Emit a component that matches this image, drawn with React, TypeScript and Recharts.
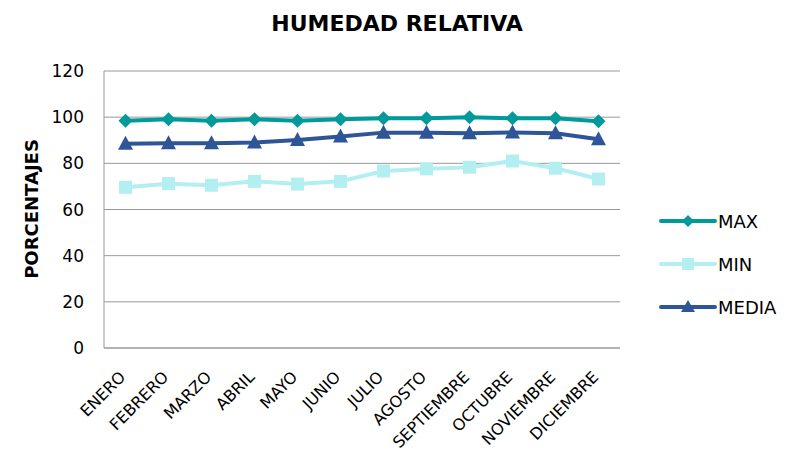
import React from 'react';
import { LineChart, Line, XAxis, YAxis, CartesianGrid } from 'recharts';

const months = ['ENERO','FEBRERO','MARZO','ABRIL','MAYO','JUNIO','JULIO','AGOSTO','SEPTIEMBRE','OCTUBRE','NOVIEMBRE','DICIEMBRE'];
const maxVals = [98.5, 99.1, 98.5, 99.1, 98.5, 99.1, 99.5, 99.5, 100, 99.5, 99.5, 98.2];
const minVals = [69.6, 71.2, 70.5, 72.2, 71.0, 72.2, 76.7, 77.6, 78.3, 81.0, 77.9, 73.2];
const mediaVals = [88.5, 88.7, 88.7, 89.0, 90.1, 91.6, 93.3, 93.3, 93.0, 93.4, 93.0, 90.4];
const yTicks = [0, 20, 40, 60, 80, 100, 120];

const data = months.map((m, i) => ({ name: m, MAX: maxVals[i], MIN: minVals[i], MEDIA: mediaVals[i] }));

const FONT = '"DejaVu Sans", sans-serif';
const C_MAX = '#009a9a';
const C_MIN = '#b3eef1';
const C_MEDIA = '#2e5597';

const Diamond = (props: any) => {
  const { cx, cy, color } = props;
  if (cx == null || cy == null) return null;
  const r = 7;
  return <path d={`M${cx},${cy - r}L${cx + r},${cy}L${cx},${cy + r}L${cx - r},${cy}Z`} fill={color} />;
};
const Square = (props: any) => {
  const { cx, cy, color } = props;
  if (cx == null || cy == null) return null;
  const r = 6.5;
  return <rect x={cx - r} y={cy - r} width={2 * r} height={2 * r} fill={color} />;
};
const Triangle = (props: any) => {
  const { cx, cy, color } = props;
  if (cx == null || cy == null) return null;
  return <path d={`M${cx},${cy - 8}L${cx + 7.5},${cy + 6}L${cx - 7.5},${cy + 6}Z`} fill={color} />;
};

const XTick = (props: any) => {
  const { x, y, payload } = props;
  const tx = x + 1;
  const ty = y + 22;
  return (
    <text x={tx} y={ty} transform={`rotate(-45 ${tx} ${ty})`} textAnchor="end" fontFamily={FONT} fontSize={16} fill="#000">
      {payload.value}
    </text>
  );
};

const legendItems = [
  { name: 'MAX', color: C_MAX, shape: 'diamond' },
  { name: 'MIN', color: C_MIN, shape: 'square' },
  { name: 'MEDIA', color: C_MEDIA, shape: 'triangle' },
];

const LegendBox = () => (
  <svg width={149} height={130} style={{ position: 'absolute', left: 640, top: 200 }}>
    {legendItems.map((it, i) => {
      const y = 21 + i * 43;
      const cx = 48;
      return (
        <g key={it.name}>
          <line x1={21} x2={75} y1={y} y2={y} stroke={it.color} strokeWidth={4} strokeLinecap="round" />
          {it.shape === 'diamond' && <path d={`M${cx},${y - 6}L${cx + 6},${y}L${cx},${y + 6}L${cx - 6},${y}Z`} fill={it.color} />}
          {it.shape === 'square' && <rect x={cx - 6} y={y - 6} width={12} height={12} fill={it.color} />}
          {it.shape === 'triangle' && <path d={`M${cx},${y - 7}L${cx + 7},${y + 5}L${cx - 7},${y + 5}Z`} fill={it.color} />}
          <text x={78} y={y + 7} fontFamily={FONT} fontSize={18} fill="#000">{it.name}</text>
        </g>
      );
    })}
  </svg>
);

export default function App() {
  return (
    <div style={{ position: 'absolute', left: 0, top: 0, width: 789, height: 466, background: '#fff' }}>
      <LineChart width={789} height={466} data={data} margin={{ top: 71, right: 169, bottom: 8, left: 0 }}>
        <text x={397} y={31} textAnchor="middle" fontFamily={FONT} fontWeight="bold" fontSize={22} fill="#000">HUMEDAD RELATIVA</text>
        <text x={38} y={209} transform="rotate(-90 38 209)" textAnchor="middle" fontFamily={FONT} fontWeight="bold" fontSize={18} fill="#000">PORCENTAJES</text>
        <CartesianGrid vertical={false} stroke="#999" strokeWidth={1} />
        <XAxis dataKey="name" interval={0} height={110} tick={<XTick />} tickLine={false} axisLine={{ stroke: '#999' }}
          padding={{ left: 21.5, right: 21.5 }} />
        <YAxis width={104} domain={[0, 120]} ticks={yTicks} interval={0} tickLine={false} axisLine={{ stroke: '#999' }}
          tick={{ fontFamily: FONT, fontSize: 17, fill: '#000' }} tickMargin={14} />
        <Line dataKey="MAX" stroke={C_MAX} strokeWidth={4} dot={<Diamond color={C_MAX} />} isAnimationActive={false} />
        <Line dataKey="MIN" stroke={C_MIN} strokeWidth={4} dot={<Square color={C_MIN} />} isAnimationActive={false} />
        <Line dataKey="MEDIA" stroke={C_MEDIA} strokeWidth={4} dot={<Triangle color={C_MEDIA} />} isAnimationActive={false} />
      </LineChart>
      <LegendBox />
    </div>
  );
}
